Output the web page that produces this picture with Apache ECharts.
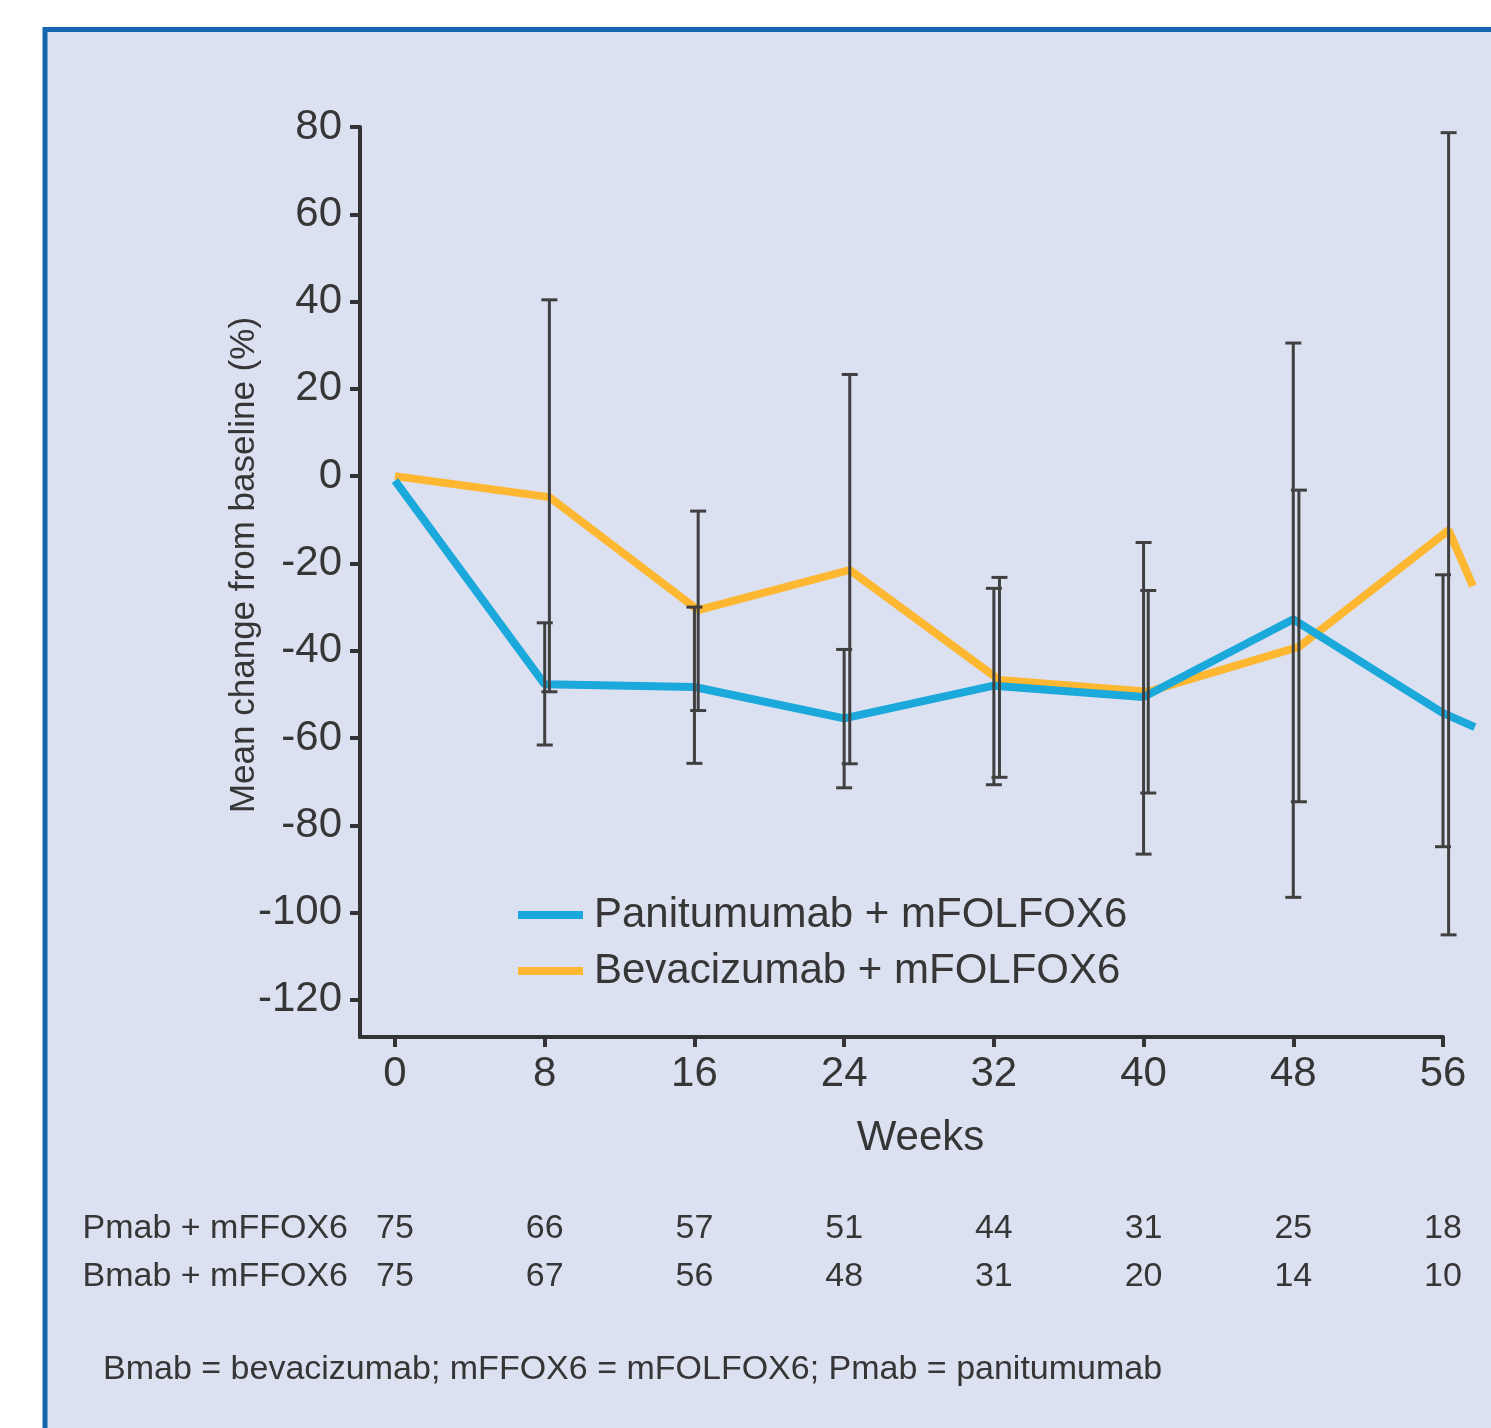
<!DOCTYPE html>
<html>
<head>
<meta charset="utf-8">
<script src="https://cdn.jsdelivr.net/npm/echarts@6/dist/echarts.min.js"></script>
<style>
html,body{margin:0;padding:0;background:#ffffff;}
#chart{width:1491px;height:1428px;}
</style>
</head>
<body>
<div id="chart"></div>
<script>
// ---- data ----
var weekTicks = [0, 8, 16, 24, 32, 40, 48, 56];
var yTicks = [-120, -100, -80, -60, -40, -20, 0, 20, 40, 60, 80];

var pmabName = 'Panitumumab + mFOLFOX6';
var pmabX    = [0, 8, 16, 24, 32, 40, 48, 56, 57.7];
var pmabMean = [-1, -47.7, -48.3, -55.5, -48, -50.6, -32.8, -54.3, -57.5];
var pmabLow  = [null, -61.6, -65.8, -71.4, -70.7, -86.6, -96.5, -84.9];
var pmabHigh = [null, -33.6, -30, -39.7, -25.7, -15.2, 30.5, -22.6];

var bmabName = 'Bevacizumab + mFOLFOX6';
var bmabX    = [0, 8.25, 16.2, 24.3, 32.3, 40.25, 48.3, 56.3, 57.6];
var bmabMean = [0, -4.8, -30.7, -21.5, -46.7, -49.4, -39.1, -12.4, -25.2];
var bmabLow  = [null, -49.4, -53.7, -65.9, -69, -72.6, -74.6, -105.1];
var bmabHigh = [null, 40.4, -8, 23.3, -23.2, -26.2, -3.2, 78.7];

var pmabAtRisk = [75, 66, 57, 51, 44, 31, 25, 18];
var bmabAtRisk = [75, 67, 56, 48, 31, 20, 14, 10];

var pmabRowLabel = 'Pmab + mFFOX6';
var bmabRowLabel = 'Bmab + mFFOX6';
var footnote = 'Bmab = bevacizumab; mFFOX6 = mFOLFOX6; Pmab = panitumumab';

// ---- styling / layout ----
var FONT = "'Liberation Sans Narrow', 'Arial Narrow', 'Liberation Sans', Arial, sans-serif";
var TXT = '#363636';
var BG = '#dce1f1';
var BLUE = '#1ba8db';
var ORANGE = '#fdb731';
var X_MIN = -1.87, X_MAX = 56, Y_MIN = -128.5, Y_MAX = 80;
var G_LEFT = 360, G_TOP = 127, G_W = 1083, G_H = 910;
var G2_W = 1125; // plotting layer reaches the right edge (lines run past week 56)
var X_MAX2 = X_MIN + G2_W * (X_MAX - X_MIN) / G_W;

function pairs(xs, ys) {
  var out = [];
  for (var i = 0; i < ys.length; i++) out.push([xs[i], ys[i]]);
  return out;
}
function errData(xs, lo, hi) {
  var out = [];
  for (var i = 0; i < lo.length; i++) {
    if (lo[i] != null) out.push([xs[i], lo[i], hi[i]]);
  }
  return out;
}
function errRender(params, api) {
  var x = api.value(0);
  var lo = api.coord([x, api.value(1)]);
  var hi = api.coord([x, api.value(2)]);
  var hw = 8;
  var st = { stroke: '#404040', lineWidth: 3 };
  return {
    type: 'group',
    children: [
      { type: 'line', shape: { x1: lo[0], y1: lo[1], x2: hi[0], y2: hi[1] }, style: st },
      { type: 'line', shape: { x1: lo[0] - hw, y1: lo[1], x2: lo[0] + hw, y2: lo[1] }, style: st },
      { type: 'line', shape: { x1: hi[0] - hw, y1: hi[1], x2: hi[0] + hw, y2: hi[1] }, style: st }
    ]
  };
}
function tableAxis(counts, label, offset) {
  return {
    type: 'value', gridIndex: 0, min: X_MIN, max: X_MAX, position: 'bottom', offset: offset,
    axisLine: { show: false, onZero: false }, axisTick: { show: false }, splitLine: { show: false },
    axisLabel: {
      customValues: weekTicks, margin: 0, verticalAlign: 'middle',
      fontFamily: FONT, fontSize: 34, color: TXT,
      formatter: function (v) { var i = weekTicks.indexOf(v); return i >= 0 ? String(counts[i]) : ''; }
    },
    name: label, nameLocation: 'start', nameGap: 12, nameMoveOverlap: false,
    nameTextStyle: { fontFamily: FONT, fontSize: 34, color: TXT, align: 'right', verticalAlign: 'middle' }
  };
}

var chart = echarts.init(document.getElementById('chart'), null, { renderer: 'canvas' });
chart.setOption({
  backgroundColor: '#ffffff',
  animation: false,
  graphic: [
    { type: 'rect', z: -10, shape: { x: 45, y: 29.5, width: 1600, height: 1600 },
      style: { fill: BG, stroke: '#1565b0', lineWidth: 5 } },
    { type: 'text', left: 103, top: 1353,
      style: { text: footnote, fontFamily: FONT, fontSize: 34, fill: TXT } }
  ],
  grid: [
    { left: G_LEFT, top: G_TOP, width: G_W, height: G_H, containLabel: false },
    { left: G_LEFT, top: G_TOP, width: G2_W, height: G_H, containLabel: false }
  ],
  legend: {
    orient: 'vertical', left: 513, top: 888, itemWidth: 65, itemHeight: 8, itemGap: 12,
    icon: 'rect',
    textStyle: { fontFamily: FONT, fontSize: 42, color: TXT, lineHeight: 44, padding: [0, 0, 0, 6] },
    data: [pmabName, bmabName]
  },
  xAxis: [
    {
      type: 'value', gridIndex: 0, min: X_MIN, max: X_MAX,
      axisLine: { show: true, onZero: false, lineStyle: { color: '#333333', width: 4 } },
      axisTick: { show: true, customValues: weekTicks, length: 10, lineStyle: { color: '#333333', width: 4 } },
      axisLabel: { customValues: weekTicks, margin: 16, fontFamily: FONT, fontSize: 42, color: TXT },
      splitLine: { show: false },
      name: 'Weeks', nameLocation: 'middle', nameGap: 80, nameMoveOverlap: false,
      nameTextStyle: { fontFamily: FONT, fontSize: 42, color: TXT, padding: [0, 0, 0, 38] }
    },
    tableAxis(pmabAtRisk, pmabRowLabel, 192),
    tableAxis(bmabAtRisk, bmabRowLabel, 240),
    { type: 'value', gridIndex: 1, min: X_MIN, max: X_MAX2, show: false }
  ],
  yAxis: [
    {
      type: 'value', gridIndex: 0, min: Y_MIN, max: Y_MAX,
      axisLine: { show: true, onZero: false, lineStyle: { color: '#333333', width: 4 } },
      axisTick: { show: true, customValues: yTicks, length: 10, lineStyle: { color: '#333333', width: 4 } },
      axisLabel: { customValues: yTicks, margin: 18, fontFamily: FONT, fontSize: 42, color: TXT },
      splitLine: { show: false },
      name: 'Mean change from baseline (%)', nameLocation: 'middle', nameGap: 98, nameRotate: 90,
      nameMoveOverlap: false,
      nameTextStyle: { fontFamily: FONT, fontSize: 35, color: TXT, padding: [0, 0, 0, 34] }
    },
    { type: 'value', gridIndex: 1, min: Y_MIN, max: Y_MAX, show: false }
  ],
  series: [
    {
      name: pmabName, type: 'line', xAxisIndex: 3, yAxisIndex: 1, data: pairs(pmabX, pmabMean),
      showSymbol: false, symbol: 'none', color: BLUE,
      lineStyle: { color: BLUE, width: 8 }, z: 3
    },
    {
      name: bmabName, type: 'line', xAxisIndex: 3, yAxisIndex: 1, data: pairs(bmabX, bmabMean),
      showSymbol: false, symbol: 'none', color: ORANGE,
      lineStyle: { color: ORANGE, width: 8 }, z: 2
    },
    {
      name: 'pmabErr', type: 'custom', xAxisIndex: 3, yAxisIndex: 1, renderItem: errRender,
      data: errData(pmabX, pmabLow, pmabHigh), encode: { x: 0, y: [1, 2] }, z: 5, silent: true
    },
    {
      name: 'bmabErr', type: 'custom', xAxisIndex: 3, yAxisIndex: 1, renderItem: errRender,
      data: errData(bmabX, bmabLow, bmabHigh), encode: { x: 0, y: [1, 2] }, z: 5, silent: true
    }
  ]
});
</script>
</body>
</html>
